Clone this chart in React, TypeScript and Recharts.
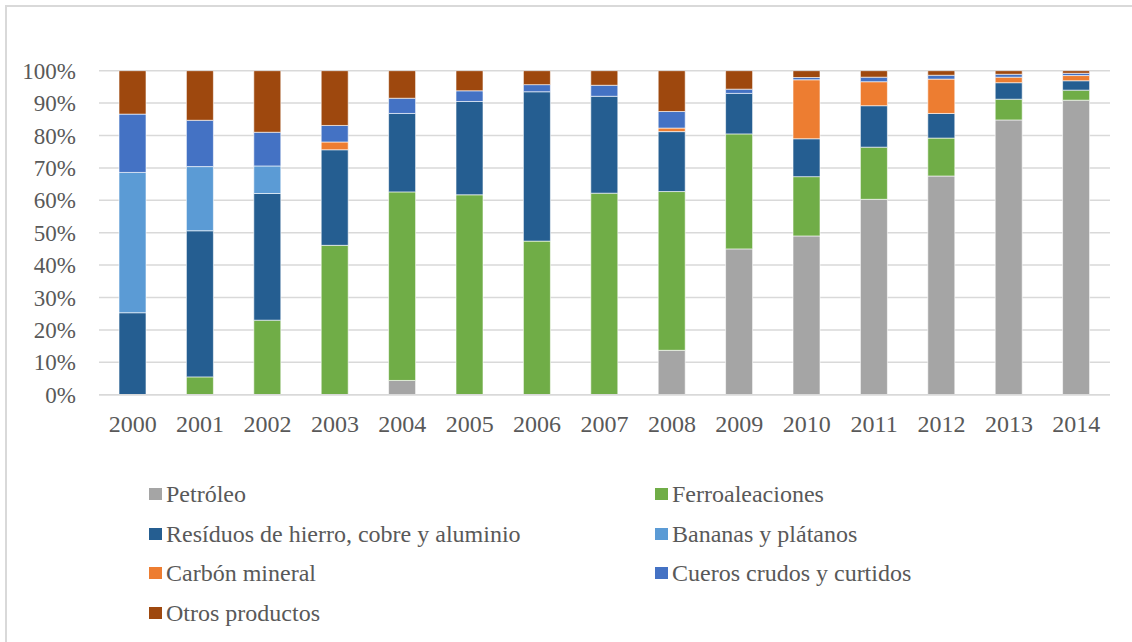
import React from 'react';
import { BarChart, Bar, XAxis, YAxis, CartesianGrid, Legend } from 'recharts';

const years = ['2000','2001','2002','2003','2004','2005','2006','2007','2008','2009','2010','2011','2012','2013','2014'];
const petroleo =        [0,    0,    0,    0,    4.4,  0,    0,    0,    13.7, 45.0, 49.0, 60.3, 67.5, 84.8, 90.9];
const ferroaleaciones = [0,    5.5,  23.0, 46.1, 58.2, 61.7, 47.4, 62.2, 49.0, 35.5, 18.3, 16.1, 11.7, 6.4,  3.1];
const residuos =        [25.3, 45.1, 39.1, 29.5, 24.2, 28.8, 46.1, 29.9, 18.5, 12.5, 11.7, 12.8, 7.6,  5.1,  2.9];
const bananas =         [43.3, 19.8, 8.5,  0,    0,    0,    0,    0,    0,    0,    0,    0,    0,    0,    0];
const carbon =          [0,    0,    0,    2.4,  0,    0,    0,    0,    1.1,  0,    18.2, 7.4,  10.6, 1.7,  1.6];
const cueros =          [18.0, 14.3, 10.4, 5.1,  4.7,  3.3,  2.2,  3.4,  5.1,  1.3,  0.7,  1.4,  1.2,  0.9,  0.7];
const otros =           [13.4, 15.3, 19.0, 16.9, 8.5,  6.2,  4.3,  4.5,  12.6, 5.7,  2.1,  2.0,  1.4,  1.1,  0.8];
const yTicks = [0, 10, 20, 30, 40, 50, 60, 70, 80, 90, 100];

const series = [
  { key: 'petroleo', name: 'Petróleo', color: '#A5A5A5', values: petroleo },
  { key: 'ferro', name: 'Ferroaleaciones', color: '#70AD47', values: ferroaleaciones },
  { key: 'residuos', name: 'Resíduos de hierro, cobre y aluminio', color: '#255E91', values: residuos },
  { key: 'bananas', name: 'Bananas y plátanos', color: '#5B9BD5', values: bananas },
  { key: 'carbon', name: 'Carbón mineral', color: '#ED7D31', values: carbon },
  { key: 'cueros', name: 'Cueros crudos y curtidos', color: '#4472C4', values: cueros },
  { key: 'otros', name: 'Otros productos', color: '#9E480E', values: otros },
];

const data = years.map((y, i) => {
  const row: Record<string, any> = { year: y };
  series.forEach(s => { row[s.key] = s.values[i]; });
  return row;
});

const FONT = '"Liberation Serif", "Times New Roman", serif';
const TEXT = '#595959';

const renderLegend = () => (
  <div style={{ position: 'relative', width: 1132, height: 170 }}>
    {series.map((s, i) => {
      const col = i % 2;
      const row = Math.floor(i / 2);
      const left = col === 0 ? 149 : 655;
      const top = row * 39.5;
      return (
        <div key={s.key} style={{ position: 'absolute', left, top, height: 30, display: 'flex', alignItems: 'center', whiteSpace: 'nowrap' }}>
          <span style={{ display: 'inline-block', width: 13, height: 12, background: s.color, marginRight: 4 }} />
          <span style={{ fontFamily: FONT, fontSize: 24, color: TEXT, lineHeight: '30px' }}>{s.name}</span>
        </div>
      );
    })}
  </div>
);

export default function App() {
  return (
    <div style={{ position: 'absolute', left: 0, top: 0, width: 1132, height: 642, overflow: 'hidden', background: '#fff' }}>
      <div style={{ position: 'absolute', left: 5, top: 5, width: 1200, height: 700, border: '2px solid #D9D9D9', boxSizing: 'border-box' }} />
      <div style={{ position: 'absolute', left: 0, top: 0 }}>
        <BarChart width={1132} height={642} data={data} margin={{ top: 70.7, right: 22, bottom: 187.3, left: 0 }} barSize={27}>
          <CartesianGrid vertical={false} stroke="#D9D9D9" strokeWidth={1.5} />
          <XAxis
            dataKey="year"
            axisLine={{ stroke: '#D9D9D9', strokeWidth: 1.5 }}
            tickLine={false}
            tickSize={0}
            tickMargin={20}
            tick={{ fill: TEXT, fontSize: 24, fontFamily: FONT }}
            interval={0}
            height={60}
          />
          <YAxis
            width={99}
            domain={[0, 100]}
            ticks={yTicks}
            interval={0}
            allowDataOverflow
            axisLine={false}
            tickLine={false}
            tickSize={0}
            tickMargin={23}
            tickFormatter={(v: number) => `${v}%`}
            tick={{ fill: TEXT, fontSize: 23, fontFamily: FONT }}
          />
          {series.map(s => (
            <Bar key={s.key} dataKey={s.key} name={s.name} stackId="a" fill={s.color} stroke="#ffffff" strokeWidth={0.6} isAnimationActive={false} />
          ))}
          <Legend
            layout="horizontal"
            verticalAlign="middle"
            align="center"
            content={renderLegend}
            wrapperStyle={{ position: 'absolute', left: 0, top: 479, width: 1132, height: 170 }}
          />
        </BarChart>
      </div>
    </div>
  );
}
